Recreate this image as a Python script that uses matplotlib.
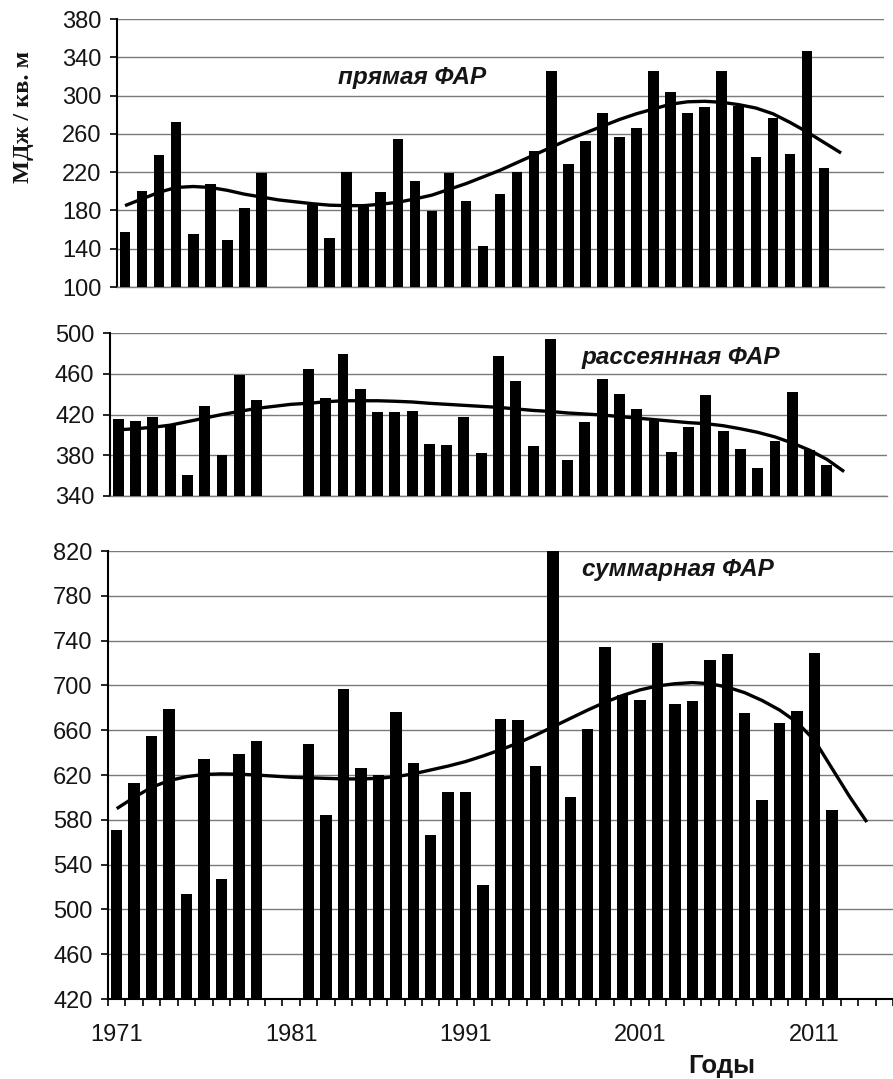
import matplotlib
matplotlib.use("Agg")
import matplotlib.pyplot as plt
import numpy as np

# ---------------- data ----------------
years = list(range(1971, 2013))
nan = float("nan")

direct_par = [157, 200, 238, 272, 155, 208, 149, 183, 219, nan,
              nan, 186, 151, 220, 184, 199, 255, 211, 179, 219,
              190, 143, 197, 220, 242, 326, 229, 253, 282, 257,
              266, 326, 304, 282, 288, 326, 289, 236, 277, 239,
              347, 224]

diffuse_par = [416, 414, 418, 410, 361, 428, 380, 459, 434, nan,
               nan, 465, 436, 479, 445, 422, 422, 423, 391, 390,
               418, 382, 477, 453, 389, 494, 375, 413, 455, 440,
               425, 414, 383, 408, 439, 404, 386, 367, 394, 442,
               385, 370]

total_par = [571, 613, 655, 679, 514, 634, 527, 639, 650, nan,
             nan, 648, 584, 697, 626, 620, 676, 631, 566, 605,
             605, 522, 670, 669, 628, 820, 600, 661, 734, 691,
             687, 738, 683, 686, 723, 728, 675, 598, 666, 677,
             729, 589]

# trend lines
trend_years_direct = list(range(1971, 2014))
trend_direct = [185, 192, 199, 204, 205, 204, 201, 197, 194, 191,
                189, 187, 185.5, 185, 185, 186.5, 188.5, 192, 196, 202,
                208, 215, 222, 230, 238, 246, 254, 261, 268, 275,
                281, 286, 291, 293.5, 294, 293, 290.5, 287, 281, 272,
                262, 251, 240]

trend_years_diffuse = list(range(1971, 2014))
trend_diffuse = [405, 406, 407.5, 409.5, 413, 416.5, 420, 423, 426, 428,
                 430, 431, 432.5, 433.5, 433.5, 433.5, 433, 432.3, 431, 430,
                 429, 428, 427, 425.5, 424, 423, 421.5, 420.5, 419.5, 418,
                 416.5, 415, 413.5, 412, 411, 409, 406, 402.5, 398, 392,
                 385, 376, 364]

trend_years_total = list(range(1971, 2015))
trend_total = [590, 600, 609, 615, 618.5, 620.5, 621, 620.7, 620, 619,
               618, 617.5, 617, 616.5, 616.5, 617, 618.5, 621, 624.5, 628,
               632, 637, 642.5, 648.5, 655.5, 663, 670.5, 678, 685, 691,
               696, 699.5, 701.5, 702.5, 701.5, 698.5, 693.5, 686.5, 678, 667,
               651, 626, 601, 578]

xtick_years = [1971, 1981, 1991, 2001, 2011]

# ---------------- figure ----------------
W, H = 893, 1079
fig = plt.figure(figsize=(W / 100, H / 100), dpi=100)
fig.patch.set_facecolor("white")

FONT = "Liberation Sans"
GRID = "#7a7a7a"
TXT = "#151515"
TICK_FS = 17


def px_axes(left, right, top, bottom):
    return fig.add_axes([left / W, 1 - bottom / H, (right - left) / W, (bottom - top) / H])


panels = [
    # values, trend x, trend y, ymin, ymax, step, (left,right,top,bottom), xlim, bar width
    (direct_par, trend_years_direct, trend_direct, 100, 380, 40, (116.5, 883.7, 19, 287), (1970.5, 2015.5), 0.62),
    (diffuse_par, trend_years_diffuse, trend_diffuse, 340, 500, 40, (109.7, 887.3, 333, 496), (1970.5, 2015.5), 0.63),
    (total_par, trend_years_total, trend_total, 420, 820, 40, (108, 893, 551, 999), (1970.5, 2015.4), 0.66),
]

for i, (vals, tx, ty, ymin, ymax, step, box, xl, bw) in enumerate(panels):
    ax = px_axes(*box)
    v = np.array(vals, dtype=float)
    ok = ~np.isnan(v)
    yrs = np.array(years)
    ax.bar(yrs[ok], v[ok] - ymin, bottom=ymin, width=bw, color="black", zorder=3)
    ax.plot(tx, ty, color="black", lw=2.4, zorder=4, solid_capstyle="butt")
    ax.set_xlim(*xl)
    ax.set_ylim(ymin, ymax)
    ax.set_yticks(np.arange(ymin, ymax + 1, step))
    ax.yaxis.grid(True, color=GRID, lw=1.0, zorder=0)
    ax.set_axisbelow(True)
    for s in ("top", "right"):
        ax.spines[s].set_visible(False)
    ax.spines["left"].set_linewidth(1.5)
    ax.spines["left"].set_color("black")
    ax.tick_params(axis="y", direction="out", length=5, width=1.2, color="black",
                   labelsize=TICK_FS, labelcolor=TXT, pad=6)
    for lab in ax.get_yticklabels():
        lab.set_fontfamily(FONT)
    if i < 2:
        ax.spines["bottom"].set_color(GRID)
        ax.spines["bottom"].set_linewidth(1.0)
        ax.tick_params(axis="x", which="both", bottom=False, labelbottom=False)
    else:
        ax.spines["bottom"].set_color("black")
        ax.spines["bottom"].set_linewidth(1.5)
        ax.set_xticks(xtick_years)
        ax.set_xticklabels([str(y) for y in xtick_years], fontfamily=FONT)
        ax.set_xticks(np.arange(1970.5, 2015.6, 1.0), minor=True)
        ax.tick_params(axis="x", which="major", length=0, labelsize=TICK_FS, labelcolor=TXT, pad=18)
        ax.tick_params(axis="x", which="minor", direction="out", length=5, width=1.2, color="black")


def ftext(x, y, s, **kw):
    fig.text(x / W, 1 - y / H, s, **kw)


ftext(24, 117, "МДж / кв. м", rotation=90, ha="center", va="center",
      fontfamily="Liberation Serif", fontweight="bold", fontsize=17.5, color=TXT)
ftext(412, 84, "прямая ФАР", ha="center", va="baseline", fontfamily=FONT,
      fontweight="bold", fontstyle="italic", fontsize=17.5, color=TXT)
ftext(681, 364, "рассеянная ФАР", ha="center", va="baseline", fontfamily=FONT,
      fontweight="bold", fontstyle="italic", fontsize=17.5, color=TXT)
ftext(678, 576, "суммарная ФАР", ha="center", va="baseline", fontfamily=FONT,
      fontweight="bold", fontstyle="italic", fontsize=17.5, color=TXT)
ftext(722, 1066, "Годы", ha="center", va="center", fontfamily=FONT,
      fontweight="bold", fontsize=18.5, color=TXT)

fig.savefig("out.png", dpi=100, facecolor="white")
